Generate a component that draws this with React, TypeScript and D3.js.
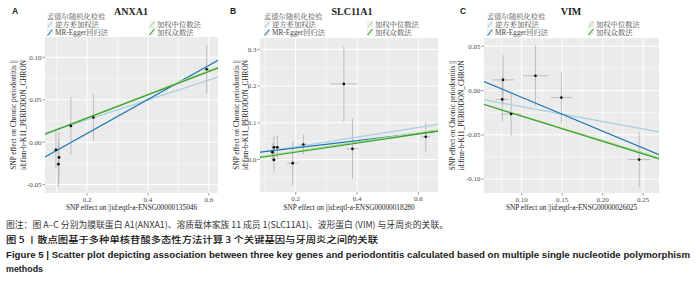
import React from "react";
import * as d3 from "d3";

const panelLetters = ["A", "B", "C"];
const geneNames = ["ANXA1", "SLC11A1", "VIM"];
const exposureIds = ["ENSG00000135046", "ENSG00000018280", "ENSG00000026025"];
const methodNames = ["逆方差加权法", "MR-Egger回归法", "加权中位数法", "加权众数法"];
const methodColors = ["#a6cee3", "#1f78b4", "#b2df8a", "#33a02c"];
const legendTitle = "孟德尔随机化检验";
const yTitleLines = ["SNP effect on Chronic periodontitis ||", "id:finn-b-K11_PERIODON_CHRON"];
const xTitlePrefix = "SNP effect on  ||id:eqtl-a-";

// Panel A (ANXA1)
const aBetaX = [0.098, 0.108, 0.106, 0.147, 0.221, 0.593];
const aBetaY = [-0.009, -0.018, -0.026, 0.019, 0.029, 0.086];
const aSeX = [0.01, 0.006, 0.006, 0.006, 0.006, 0.011];
const aSeY = [0.022, 0.03, 0.027, 0.034, 0.0275, 0.0285];
const aSlope = [0.117, 0.201, 0.139, 0.137];
const aIntercept = [0.003, -0.03, 0.001, 0.001];
const aXDomain = [0.062, 0.63];
const aYDomain = [-0.06, 0.124];
const aXTicks = [0.2, 0.4, 0.6];
const aXLabels = ["0.2", "0.4", "0.6"];
const aYTicks = [-0.05, 0, 0.05, 0.1];
const aYLabels = ["-0.05", "0.00", "0.05", "0.10"];

// Panel B (SLC11A1)
const bBetaX = [0.124, 0.129, 0.14, 0.129, 0.19, 0.225, 0.357, 0.385, 0.624];
const bBetaY = [0.02, 0.033, 0.033, -0.001, -0.01, 0.041, 0.206, 0.029, 0.062];
const bSeX = [0.008, 0.006, 0.006, 0.006, 0.019, 0.01, 0.043, 0.02, 0.014];
const bSeY = [0.025, 0.03, 0.033, 0.035, 0.06, 0.027, 0.102, 0.082, 0.04];
const bSlope = [0.132, 0.098, 0.126, 0.124];
const bIntercept = [0.008, 0.012, -0.003, -0.005];
const bXDomain = [0.0835, 0.664];
const bYDomain = [-0.0886, 0.331];
const bXTicks = [0.2, 0.4, 0.6];
const bXLabels = ["0.2", "0.4", "0.6"];
const bYTicks = [0, 0.1, 0.2, 0.3];
const bYLabels = ["0.0", "0.1", "0.2", "0.3"];

// Panel C (VIM)
const cBetaX = [0.077, 0.076, 0.087, 0.117, 0.149, 0.245];
const cBetaY = [0.012, -0.01, -0.0265, 0.0167, -0.008, -0.078];
const cSeX = [0.0136, 0.008, 0.012, 0.0154, 0.0128, 0.014];
const cSeY = [0.028, 0.025, 0.024, 0.034, 0.029, 0.031];
const cSlope = [-0.168, -0.383, -0.279, -0.285];
const cIntercept = [-0.0015, 0.0307, -0.0005, -0.0005];
const cXDomain = [0.0535, 0.2695];
const cYDomain = [-0.1157, 0.0593];
const cXTicks = [0.1, 0.15, 0.2, 0.25];
const cXLabels = ["0.10", "0.15", "0.20", "0.25"];
const cYTicks = [-0.1, -0.05, 0, 0.05];
const cYLabels = ["-0.10", "-0.05", "0.00", "0.05"];

const captionLines = [
  "图注：图 A–C 分别为膜联蛋白 A1(ANXA1)、溶质载体家族 11 成员 1(SLC11A1)、波形蛋白 (VIM) 与牙周炎的关联。",
  "图 5 丨散点图基于多种单核苷酸多态性方法计算 3 个关键基因与牙周炎之间的关联",
  "Figure 5  |  Scatter plot depicting association between three key genes and periodontitis calculated based on multiple single nucleotide polymorphism",
  "methods",
];

const panelData = [
  { bx: aBetaX, by: aBetaY, sx: aSeX, sy: aSeY, slope: aSlope, icpt: aIntercept, xd: aXDomain, yd: aYDomain, xt: aXTicks, xl: aXLabels, yt: aYTicks, yl: aYLabels },
  { bx: bBetaX, by: bBetaY, sx: bSeX, sy: bSeY, slope: bSlope, icpt: bIntercept, xd: bXDomain, yd: bYDomain, xt: bXTicks, xl: bXLabels, yt: bYTicks, yl: bYLabels },
  { bx: cBetaX, by: cBetaY, sx: cSeX, sy: cSeY, slope: cSlope, icpt: cIntercept, xd: cXDomain, yd: cYDomain, xt: cXTicks, xl: cXLabels, yt: cYTicks, yl: cYLabels },
];

const layouts = [
  { left: 45, right: 218, top: 37, bottom: 193, titleX: 131, letterX: 15, legL: 47, legR: 149, yt: [13, 23] },
  { left: 260, right: 438, top: 38, bottom: 192, titleX: 352, letterX: 233, legL: 264, legR: 367, yt: [236, 245] },
  { left: 484, right: 659, top: 38, bottom: 193, titleX: 571, letterX: 463, legL: 487, legR: 588, yt: [452, 461] },
];

const SERIF = "'Liberation Serif','Noto Serif CJK SC','Noto Sans CJK SC',serif";
const CJK = "'Noto Sans CJK SC','Noto Sans',sans-serif";

function minorTicks(major: number[], domain: number[]) {
  const step = major[1] - major[0];
  const out: number[] = [];
  const all = [major[0] - step, ...major, major[major.length - 1] + step];
  for (let i = 0; i < all.length - 1; i++) {
    const m = (all[i] + all[i + 1]) / 2;
    if (m > domain[0] && m < domain[1]) out.push(m);
  }
  return out;
}

function Panel({ idx }: { idx: number }) {
  const d = panelData[idx];
  const L = layouts[idx];
  const x = d3.scaleLinear().domain(d.xd).range([L.left, L.right]);
  const y = d3.scaleLinear().domain(d.yd).range([L.bottom, L.top]);
  const clipId = `clip${idx}`;
  const xMinor = minorTicks(d.xt, d.xd);
  const yMinor = minorTicks(d.yt, d.yd);
  const cy = (L.top + L.bottom) / 2;
  const cx = (L.left + L.right) / 2;
  const legendRows = [
    { xk: L.legL, y: 24.5, m: 0 },
    { xk: L.legL, y: 32.5, m: 1 },
    { xk: L.legR, y: 24.5, m: 2 },
    { xk: L.legR, y: 32, m: 3 },
  ];
  return (
    <g>
      <defs>
        <clipPath id={clipId}>
          <rect x={L.left} y={L.top} width={L.right - L.left} height={L.bottom - L.top} />
        </clipPath>
      </defs>
      <text x={L.letterX} y={14} fontFamily="'Liberation Sans',Arial,sans-serif" fontWeight="bold" fontSize={8.5} textAnchor="middle" fill="#222">
        {panelLetters[idx]}
      </text>
      <text x={L.titleX} y={14.5} fontFamily={SERIF} fontWeight="bold" fontSize={10} textAnchor="middle" fill="#222">
        {geneNames[idx]}
      </text>
      <text x={L.legL} y={18.5} fontFamily={SERIF} fontSize={7.3} fill="#555">
        {legendTitle}
      </text>
      {legendRows.map((r) => (
        <g key={r.m}>
          <rect x={r.xk} y={r.y - 3.5} width={6} height={7} fill="#f2f2f2" />
          <line x1={r.xk + 0.5} y1={r.y + 3} x2={r.xk + 5.5} y2={r.y - 3} stroke={methodColors[r.m]} strokeWidth={1.1} />
          <text x={r.xk + 8} y={r.y + 2.6} fontFamily={SERIF} fontSize={7.3} fill="#444">
            {methodNames[r.m]}
          </text>
        </g>
      ))}
      <rect x={L.left} y={L.top} width={L.right - L.left} height={L.bottom - L.top} fill="#ebebeb" />
      {xMinor.map((t) => (
        <line key={"xm" + t} x1={x(t)} x2={x(t)} y1={L.top} y2={L.bottom} stroke="#fff" strokeWidth={0.5} />
      ))}
      {yMinor.map((t) => (
        <line key={"ym" + t} y1={y(t)} y2={y(t)} x1={L.left} x2={L.right} stroke="#fff" strokeWidth={0.5} />
      ))}
      {d.xt.map((t) => (
        <line key={"xM" + t} x1={x(t)} x2={x(t)} y1={L.top} y2={L.bottom} stroke="#fff" strokeWidth={1} />
      ))}
      {d.yt.map((t) => (
        <line key={"yM" + t} y1={y(t)} y2={y(t)} x1={L.left} x2={L.right} stroke="#fff" strokeWidth={1} />
      ))}
      <g clipPath={`url(#${clipId})`}>
        {d.bx.map((bx, i) => (
          <g key={"e" + i}>
            <line x1={x(bx)} x2={x(bx)} y1={y(d.by[i] - d.sy[i])} y2={y(d.by[i] + d.sy[i])} stroke="#a8a8a8" strokeWidth={0.7} />
            <line x1={x(bx - d.sx[i])} x2={x(bx + d.sx[i])} y1={y(d.by[i])} y2={y(d.by[i])} stroke="#a8a8a8" strokeWidth={0.7} />
          </g>
        ))}
        {d.slope.map((s, m) => {
          const pts = d.xd.map((xv) => [x(xv), y(d.icpt[m] + s * xv)] as [number, number]);
          const path = d3.line()(pts) || "";
          return <path key={"l" + m} d={path} stroke={methodColors[m]} strokeWidth={1.2} fill="none" />;
        })}
        {d.bx.map((bx, i) => (
          <circle key={"p" + i} cx={x(bx)} cy={y(d.by[i])} r={1.3} fill="#000" />
        ))}
      </g>
      {d.yt.map((t, i) => (
        <g key={"yt" + t}>
          <line x1={L.left - 2.5} x2={L.left} y1={y(t)} y2={y(t)} stroke="#555" strokeWidth={0.6} />
          <text x={L.left - 3.5} y={y(t) + 2.4} fontFamily={SERIF} fontSize={7} textAnchor="end" fill="#4d4d4d">
            {d.yl[i]}
          </text>
        </g>
      ))}
      {d.xt.map((t, i) => (
        <g key={"xt" + t}>
          <line x1={x(t)} x2={x(t)} y1={L.bottom} y2={L.bottom + 2.5} stroke="#555" strokeWidth={0.6} />
          <text x={x(t)} y={L.bottom + 9} fontFamily={SERIF} fontSize={7} textAnchor="middle" fill="#4d4d4d">
            {d.xl[i]}
          </text>
        </g>
      ))}
      <text x={cx} y={209.5} fontFamily={SERIF} fontSize={7.3} textAnchor="middle" fill="#222">
        {xTitlePrefix + exposureIds[idx]}
      </text>
      {yTitleLines.map((t, i) => (
        <text
          key={"yl" + i}
          transform={`translate(${L.yt[i] + 2.5},${cy}) rotate(-90)`}
          fontFamily={SERIF}
          fontSize={7.3}
          textAnchor="middle"
          fill="#222"
        >
          {t}
        </text>
      ))}
    </g>
  );
}

export default function App() {
  return (
    <div style={{ position: "absolute", left: 0, top: 0 }}>
      <svg width={700} height={281} viewBox="0 0 700 281" style={{ display: "block", background: "#fff" }}>
        <rect x={0} y={0} width={700} height={281} fill="#fff" />
        {[0, 1, 2].map((i) => (
          <Panel key={i} idx={i} />
        ))}
        <text x={6} y={228} fontFamily={CJK} fontSize={8.6} fill="#333" textLength={442} lengthAdjust="spacingAndGlyphs">
          {captionLines[0]}
        </text>
        <text x={6} y={243} fontFamily={CJK} fontSize={8.6} fontWeight={500} fill="#111" textLength={372} lengthAdjust="spacingAndGlyphs">
          {captionLines[1]}
        </text>
        <text x={6} y={258} fontFamily="'Liberation Sans Narrow','Liberation Sans',Arial,sans-serif" fontSize={8.8} fontWeight="bold" fill="#222" textLength={684} lengthAdjust="spacingAndGlyphs">
          {captionLines[2]}
        </text>
        <text x={6} y={272} fontFamily="'Liberation Sans Narrow','Liberation Sans',Arial,sans-serif" fontSize={8.8} fontWeight="bold" fill="#222" textLength={37} lengthAdjust="spacingAndGlyphs">
          {captionLines[3]}
        </text>
      </svg>
    </div>
  );
}
